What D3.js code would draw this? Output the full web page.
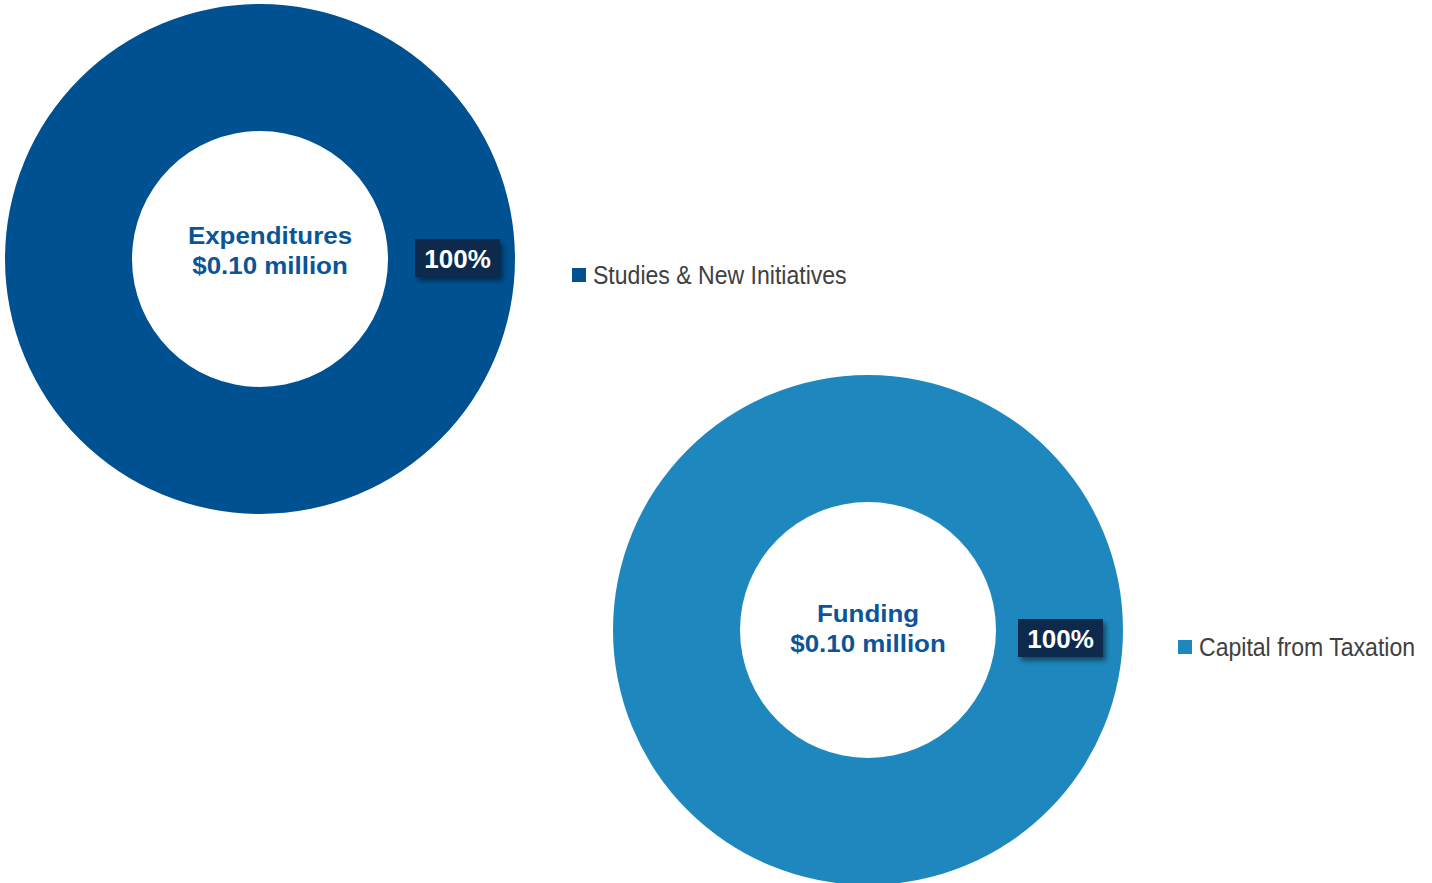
<!DOCTYPE html>
<html><head><meta charset="utf-8">
<script src="https://cdn.jsdelivr.net/npm/d3@7"></script>
<style>html,body{margin:0;padding:0;background:#fff;}svg{display:block;}</style>
</head><body>
<script>
// Data
const chartTitles = ["Expenditures", "Funding"];
const chartTotals = ["$0.10 million", "$0.10 million"];
const expenditureCategories = ["Studies & New Initiatives"];
const expenditureValues = [100];
const fundingCategories = ["Capital from Taxation"];
const fundingValues = [100];

const W = 1432, H = 883;
const svg = d3.select("body").append("svg").attr("width", W).attr("height", H);

const defs = svg.append("defs");
const f = defs.append("filter").attr("id","shadow").attr("x","-20%").attr("y","-30%").attr("width","150%").attr("height","180%");
f.append("feDropShadow").attr("dx",3).attr("dy",4).attr("stdDeviation",2.5).attr("flood-color","#000").attr("flood-opacity",0.45);

const charts = [
  {title: chartTitles[0], total: chartTotals[0], cats: expenditureCategories, vals: expenditureValues,
   colors: ["#005192"], cx: 260, cy: 259, textDx: 10, textDy: -15, labelX: 457.5, labelY: 258, legendX: 572, legendY: 275},
  {title: chartTitles[1], total: chartTotals[1], cats: fundingCategories, vals: fundingValues,
   colors: ["#1e88be"], cx: 868, cy: 630, textDx: 0, textDy: -8, labelX: 1060.5, labelY: 638, legendX: 1178, legendY: 647}
];

const outerR = 255, innerR = 128;
const pie = d3.pie().sort(null).value(d => d.v);
const arc = d3.arc().innerRadius(innerR).outerRadius(outerR);

charts.forEach(c => {
  const data = c.cats.map((k,i) => ({k, v: c.vals[i]}));
  const color = d3.scaleOrdinal().domain(c.cats).range(c.colors);
  const total = d3.sum(c.vals);
  const g = svg.append("g").attr("transform", `translate(${c.cx},${c.cy})`);
  g.selectAll("path.slice").data(pie(data)).join("path").attr("class","slice")
    .attr("d", arc).attr("fill", d => color(d.data.k));

  // center text
  const tg = g.append("g").attr("transform", `translate(${c.textDx},0)`);
  [c.title, c.total].forEach((t,i) => {
    tg.append("text")
      .attr("transform", `translate(0,${c.textDy + i*30}) scale(1.08,1)`)
      .attr("text-anchor","middle")
      .attr("font-family","'Liberation Sans', Arial, sans-serif")
      .attr("font-weight","bold").attr("font-size",24)
      .attr("fill","#0a5598").text(t);
  });

  // data label
  pie(data).forEach(d => {
    const pct = d3.format(".0%")(d.data.v / total);
    const lg = svg.append("g").attr("transform", `translate(${c.labelX},${c.labelY})`);
    lg.append("rect").attr("x",-42.5).attr("y",-19).attr("width",85).attr("height",38)
      .attr("fill","#0b2a4e").attr("filter","url(#shadow)");
    lg.append("text").attr("text-anchor","middle").attr("y",10)
      .attr("font-family","'Liberation Sans', Arial, sans-serif")
      .attr("font-weight","bold").attr("font-size",26).attr("fill","#fff").text(pct);
  });

  // legend
  const leg = svg.append("g").attr("transform", `translate(${c.legendX},${c.legendY})`);
  c.cats.forEach((k,i) => {
    leg.append("rect").attr("x",0).attr("y",-7).attr("width",14).attr("height",14).attr("fill",color(k));
    leg.append("text").attr("transform","translate(21,8.5) scale(0.87,1)")
      .attr("font-family","'Liberation Sans', Arial, sans-serif")
      .attr("font-size",26.5).attr("fill","#404040").text(k);
  });
});
</script>
</body></html>
